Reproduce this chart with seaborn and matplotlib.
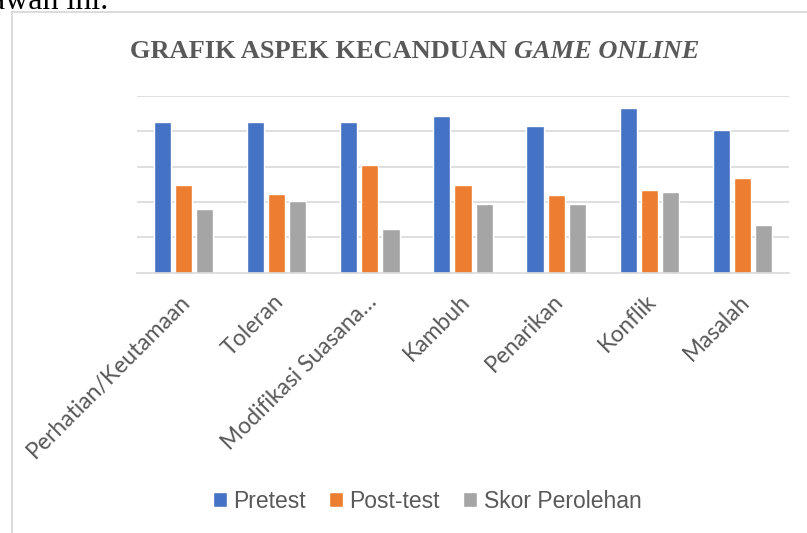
import numpy as np
import pandas as pd
import matplotlib
matplotlib.use('Agg')
import matplotlib.pyplot as plt
import matplotlib.transforms as mtransforms
from matplotlib.lines import Line2D
import seaborn as sns

aspek = ['Perhatian/Keutamaan', 'Toleran', 'Modifikasi Suasana…', 'Kambuh',
         'Penarikan', 'Konflik', 'Masalah']
pretest = [85.4, 85.4, 85.4, 88.8, 82.6, 92.8, 80.4]
posttest = [49.4, 44.4, 60.6, 49.4, 43.8, 46.6, 53.4]
skor = [35.8, 40.4, 24.6, 38.6, 38.6, 45.4, 26.8]
seri = ['Pretest', 'Post-test', 'Skor Perolehan']
warna = ['#4472C4', '#ED7D31', '#A5A5A5']

df = pd.DataFrame({'Aspek': aspek * 3,
                   'Nilai': pretest + posttest + skor,
                   'Tes': [s for s in seri for _ in aspek]})

sns.set_theme(style='white')
plt.rcParams['font.family'] = ['Lato', 'DejaVu Sans']

fig = plt.figure(figsize=(8.07, 5.33), dpi=100)
W, H = 807, 533
ax = fig.add_axes([137 / W, 1 - 272.7 / H, (789 - 137) / W, (272.7 - 95.7) / H])

sns.barplot(data=df, x='Aspek', y='Nilai', hue='Tes', palette=warna,
            width=0.68, gap=0.19, saturation=1, ax=ax)

ax.set_ylim(0, 100)
ax.set_xlim(-0.5, 6.5)
ax.set_yticks([20, 40, 60, 80, 100])
ax.set_yticklabels([])
ax.tick_params(axis='y', length=0)
ax.grid(axis='y', color='#D9D9D9', linewidth=1.2)
ax.set_axisbelow(True)
for s in ['top', 'right', 'left']:
    ax.spines[s].set_visible(False)
ax.spines['bottom'].set_color('#D9D9D9')
ax.spines['bottom'].set_linewidth(1.2)
ax.set_xlabel('')
ax.set_ylabel('')

ax.set_xticks(np.arange(-0.5, 7, 1), minor=True)
ax.tick_params(axis='x', which='minor', length=5, width=1.2, color='#D9D9D9', direction='out')
ax.tick_params(axis='x', which='major', length=0, pad=13)
ax.set_xticks(range(len(aspek)))
ax.set_xticklabels(aspek, rotation=45, ha='right', va='top', rotation_mode='anchor',
                   fontsize=16.5, color='#595959')
shift = mtransforms.ScaledTranslation(-4 / 100, 0, fig.dpi_scale_trans)
for lbl in ax.get_xticklabels():
    lbl.set_transform(lbl.get_transform() + shift)

handles, labels = ax.get_legend_handles_labels()
ax.get_legend().remove()
fig.legend(handles, labels, loc='center', bbox_to_anchor=(427 / W, 1 - 501 / H),
           ncol=3, frameon=False, handlelength=0.62, handleheight=0.62,
           handletextpad=0.28, columnspacing=1.0,
           prop={'family': 'Liberation Sans', 'size': 16.5}, labelcolor='#595959')

# title: bold upright + bold italic
t1 = fig.text(0, 1 - 57.5 / H, 'GRAFIK ASPEK KECANDUAN ', family='Liberation Serif',
              weight='bold', fontsize=19, color='#595959', va='baseline', ha='left')
t2 = fig.text(0, 1 - 57.5 / H, 'GAME ONLINE', family='Liberation Serif', style='italic',
              weight='bold', fontsize=19, color='#595959', va='baseline', ha='left')
r = fig.canvas.get_renderer()
w1 = t1.get_window_extent(r).width
w2 = t2.get_window_extent(r).width
x0 = 415 - (w1 + w2) / 2
t1.set_x(x0 / W)
t2.set_x((x0 + w1) / W)

# chart frame and text above it
fig.add_artist(Line2D([12 / W, 1], [1 - 12 / H, 1 - 12 / H], color='#D9D9D9', lw=1.3))
fig.add_artist(Line2D([12 / W, 12 / W], [0, 1 - 12 / H], color='#D9D9D9', lw=1.3))
fig.text(108 / W, 1 - 9 / H, 'di bawah ini.', family='Liberation Serif', fontsize=23,
         color='black', ha='right', va='baseline')

fig.savefig('out.png', dpi=100)
